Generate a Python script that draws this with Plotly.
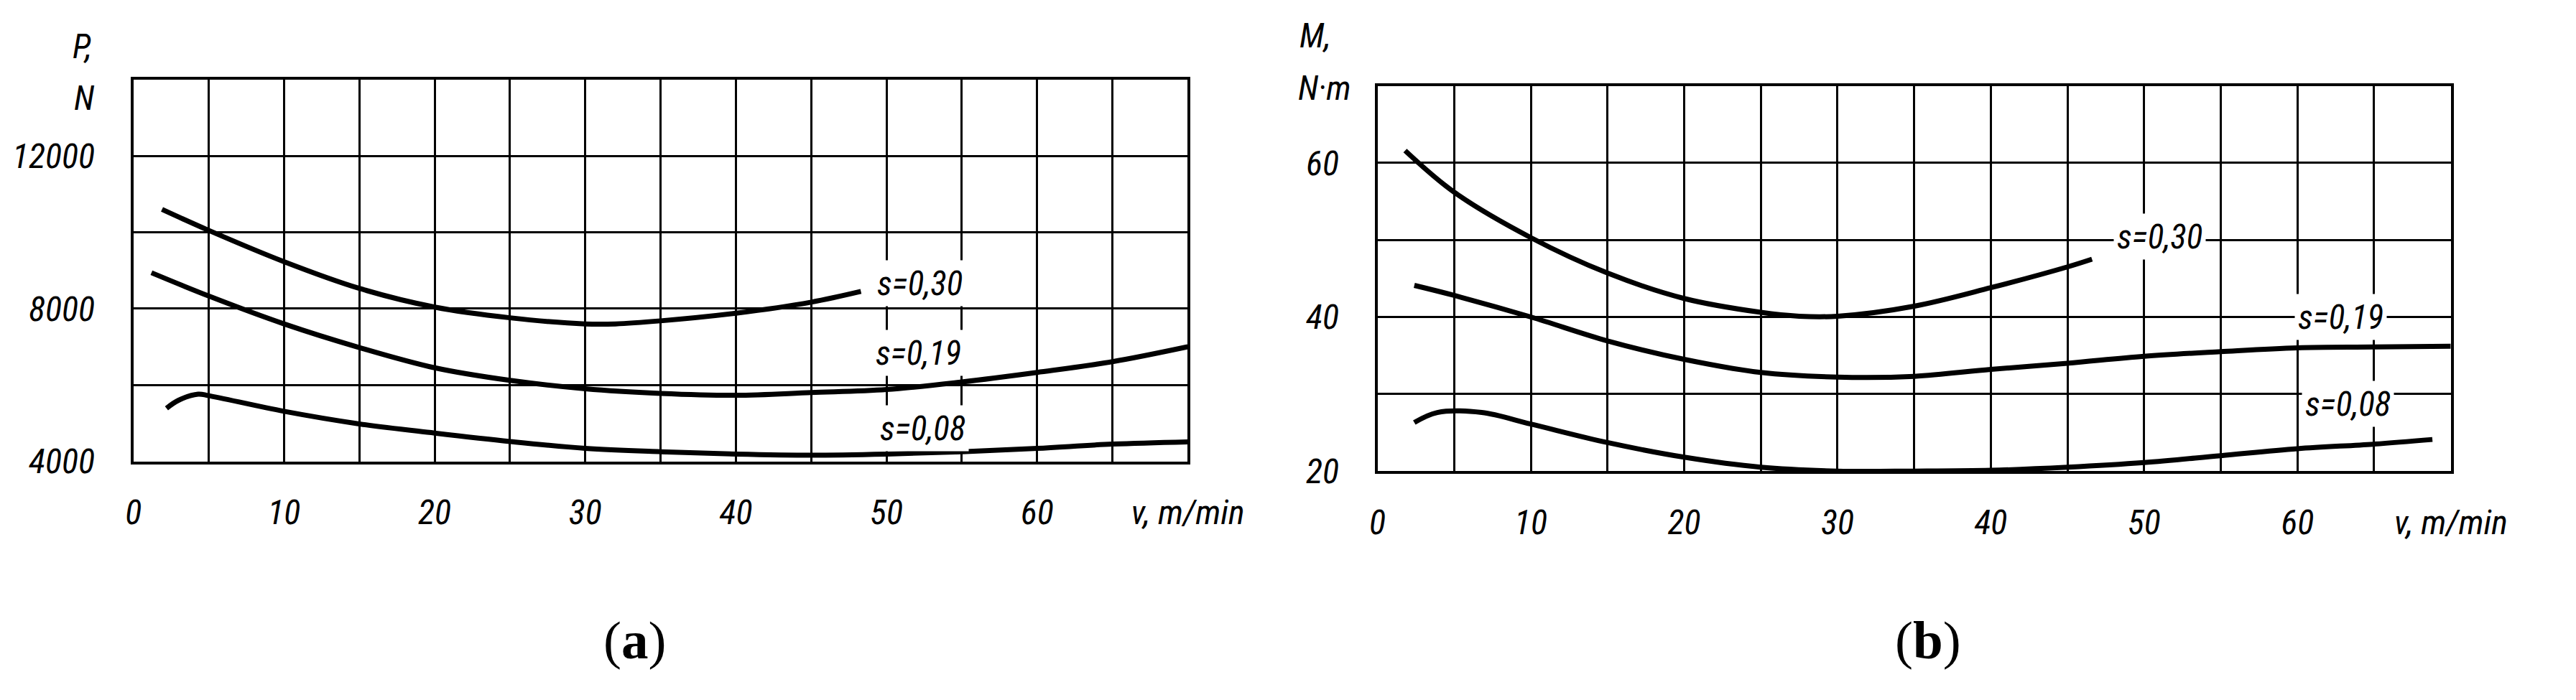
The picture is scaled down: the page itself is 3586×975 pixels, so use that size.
import plotly.graph_objects as go

# ---------------- data: panel (a) cutting force P, N ----------------
v_a_030 = [1.9, 5, 10, 15, 20, 25, 30, 32, 35, 40, 45, 48.3]
P_a_030 = [10600, 10050, 9230, 8530, 8040, 7760, 7600, 7600, 7680, 7880, 8170, 8450]

v_a_019 = [1.2, 5, 10, 15, 20, 25, 30, 35, 40, 45, 50, 55, 60, 65, 70]
P_a_019 = [8940, 8330, 7600, 6980, 6450, 6120, 5900, 5780, 5730, 5800, 5880, 6080, 6330, 6610, 7000]

v_a_008 = [2.2, 3.0, 4.3, 5, 10, 15, 20, 25, 30, 35, 40, 45, 50, 55, 60, 65, 70]
P_a_008 = [5390, 5600, 5760, 5720, 5310, 4980, 4740, 4520, 4340, 4250, 4190, 4160, 4190, 4250, 4340, 4450, 4510]

# ---------------- data: panel (b) torque M, N·m ----------------
v_b_030 = [1.8, 5, 10, 15, 20, 25, 27.5, 30, 35, 40, 45, 46.6]
M_b_030 = [61.6, 56.2, 50.3, 45.7, 42.4, 40.6, 40.1, 40.1, 41.4, 43.8, 46.5, 47.5]

v_b_019 = [2.4, 5, 10, 15, 20, 25, 30, 35, 40, 45, 50, 55, 60, 65, 70]
M_b_019 = [44.1, 42.8, 40.0, 36.9, 34.5, 32.8, 32.2, 32.3, 33.2, 34.0, 34.9, 35.5, 36.0, 36.1, 36.2]

v_b_008 = [2.4, 3.9, 6.8, 10, 15, 20, 25, 30, 35, 40, 45, 50, 55, 60, 65, 68.8]
M_b_008 = [26.3, 27.6, 27.6, 26.1, 23.7, 21.8, 20.5, 20.0, 20.0, 20.1, 20.5, 21.1, 22.0, 22.9, 23.5, 24.1]

# curve labels: text, x, y
labels_a = [("s=0,30", 52.2, 8670), ("s=0,19", 52.1, 6850), ("s=0,08", 52.4, 4860)]
labels_b = [("s=0,30", 51.0, 50.4), ("s=0,19", 62.8, 40.0), ("s=0,08", 63.3, 28.7)]

# ticks
x_grid = [0, 5, 10, 15, 20, 25, 30, 35, 40, 45, 50, 55, 60, 65, 70]
x_text = ["0", "", "10", "", "20", "", "30", "", "40", "", "50", "", "60", "", "v, m/min"]
ya_grid = [4000, 6000, 8000, 10000, 12000, 14000]
ya_text = ["4000", "", "8000", "", "12000", ""]
yb_grid = [20, 30, 40, 50, 60, 70]
yb_text = ["20", "", "40", "", "60", ""]

NARROW = "Roboto Condensed, Liberation Sans Narrow, DejaVu Sans Condensed, sans-serif"
tick_font = dict(family=NARROW, size=48, color="black", style="italic")
lab_font = dict(family=NARROW, size=47, color="black", style="italic")

fig = go.Figure()
LW = 7
for vx, vy in [(v_a_030, P_a_030), (v_a_019, P_a_019), (v_a_008, P_a_008)]:
    fig.add_trace(go.Scatter(x=vx, y=vy, mode="lines", xaxis="x", yaxis="y",
                             line=dict(color="black", width=LW, shape="spline", smoothing=1.0),
                             showlegend=False, hoverinfo="skip"))
for vx, vy in [(v_b_030, M_b_030), (v_b_019, M_b_019), (v_b_008, M_b_008)]:
    fig.add_trace(go.Scatter(x=vx, y=vy, mode="lines", xaxis="x2", yaxis="y2",
                             line=dict(color="black", width=LW, shape="spline", smoothing=1.0),
                             showlegend=False, hoverinfo="skip"))

W, H = 3586, 975
def px(x):
    return x / W
def py(y):
    return 1 - y / H

common_x = dict(range=[0, 70], tickmode="array", tickvals=x_grid, ticktext=x_text,
                showgrid=True, gridcolor="black", gridwidth=3, zeroline=False,
                showline=True, linecolor="black", linewidth=4, mirror=True,
                ticks="", tickfont=tick_font, ticklabelstandoff=26, fixedrange=True)
common_y = dict(showgrid=True, gridcolor="black", gridwidth=3, zeroline=False,
                showline=True, linecolor="black", linewidth=4, mirror=True,
                ticks="", tickfont=tick_font, ticklabelstandoff=40, fixedrange=True)

annotations = []
for t, x, y in labels_a:
    annotations.append(dict(x=x, y=y, xref="x", yref="y", text=t, showarrow=False,
                            font=lab_font, bgcolor="white", borderpad=4))
for t, x, y in labels_b:
    annotations.append(dict(x=x, y=y, xref="x2", yref="y2", text=t, showarrow=False,
                            font=lab_font, bgcolor="white", borderpad=4))

axis_titles = [("P,", 97, 58), ("N", 100, 132), ("M,", 1858, 43), ("N·m", 1871, 118)]
for t, x, y in axis_titles:
    annotations.append(dict(x=px(x), y=py(y), xref="paper", yref="paper", text=t,
                            showarrow=False, font=lab_font, xanchor="center", yanchor="middle"))

captions = [("(<b>a</b>)", 886, 911), ("(<b>b</b>)", 2733, 911)]
for t, x, y in captions:
    annotations.append(dict(x=px(x), y=py(y), xref="paper", yref="paper", text=t,
                            showarrow=False, xanchor="center", yanchor="middle",
                            font=dict(family="Liberation Serif, DejaVu Serif, serif", size=75, color="black")))

fig.update_layout(
    width=W, height=H,
    margin=dict(l=0, r=0, t=0, b=0),
    paper_bgcolor="white", plot_bgcolor="white",
    xaxis=dict(domain=[px(170), px(1676)], anchor="y", **common_x),
    yaxis=dict(domain=[py(654), py(106)], anchor="x", range=[4000, 14000],
               tickmode="array", tickvals=ya_grid, ticktext=ya_text, **common_y),
    xaxis2=dict(domain=[px(1947), px(3480)], anchor="y2", **common_x),
    yaxis2=dict(domain=[py(668), py(115)], anchor="x2", range=[20, 70],
                tickmode="array", tickvals=yb_grid, ticktext=yb_text, **common_y),
    annotations=annotations,
    showlegend=False,
)

fig.write_html("out.html")
